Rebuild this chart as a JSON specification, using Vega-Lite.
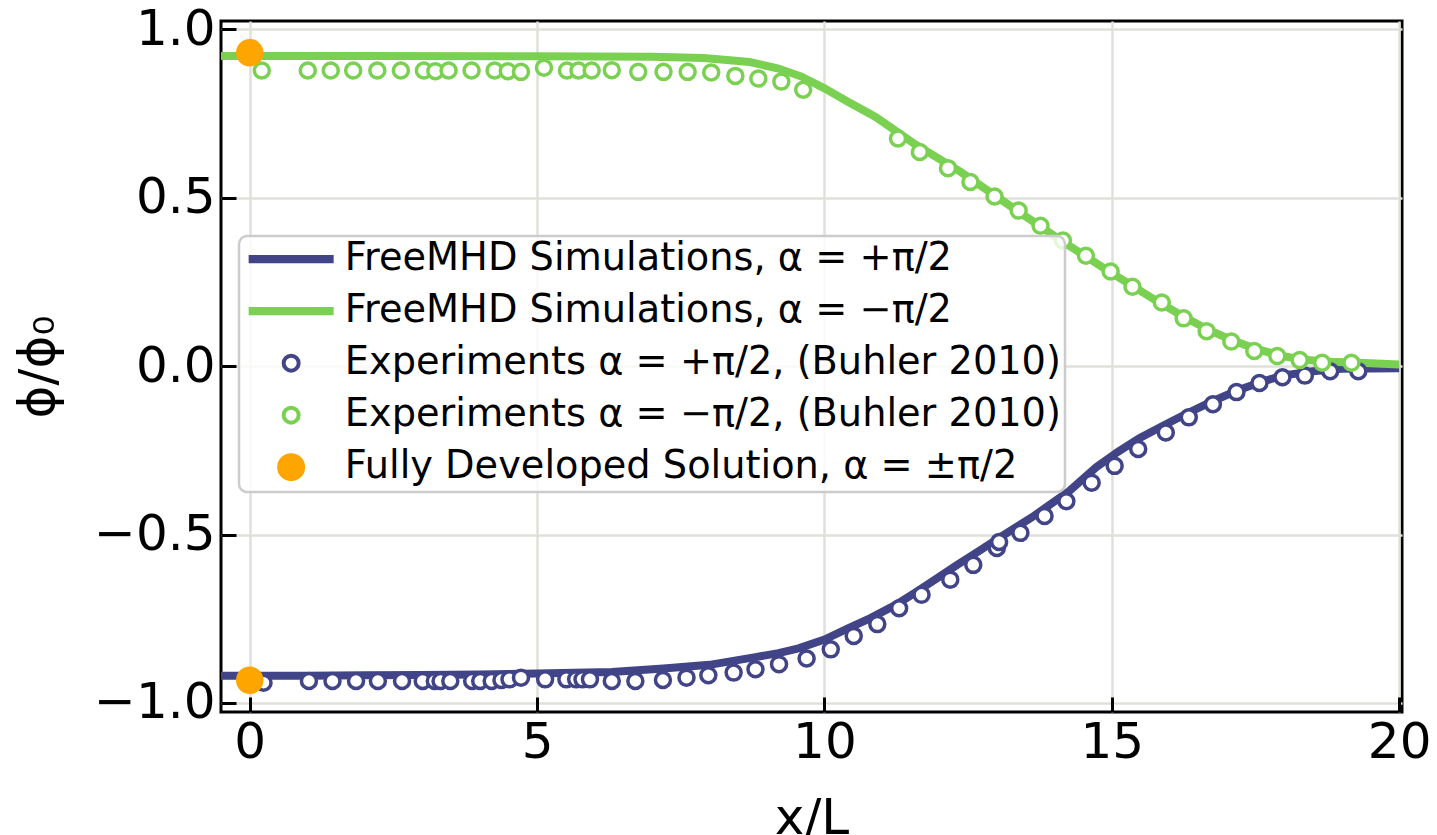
{
  "$schema": "https://vega.github.io/schema/vega-lite/v6.json",
  "width": 1181,
  "height": 691,
  "autosize": {"type": "none"},
  "padding": {"left": 221, "top": 21, "right": 35, "bottom": 123},
  "background": "white",
  "config": {
    "font": "DejaVu Sans",
    "view": {"stroke": "black", "strokeWidth": 3},
    "axis": {
      "domain": false,
      "grid": true,
      "gridColor": "#e0e0da",
      "gridWidth": 2.5,
      "ticks": true,
      "tickColor": "black",
      "tickWidth": 3,
      "tickSize": -15,
      "labelFont": "DejaVu Sans",
      "labelFontSize": 50,
      "labelColor": "black",
      "titleFont": "DejaVu Sans",
      "titleFontSize": 50,
      "titleFontWeight": "normal",
      "titleColor": "black",
      "labelPadding": 20
    },
    "legend": {
      "padding": 4,
      "fillColor": "rgba(255,255,255,0.8)",
      "strokeColor": "#cccccc",
      "strokeWidth": 2.5,
      "cornerRadius": 8,
      "labelFont": "DejaVu Sans",
      "labelFontSize": 38.3,
      "labelColor": "black",
      "labelLimit": 1200,
      "labelOffset": 34.5,
      "symbolOffset": 29,
      "rowPadding": 13,
      "symbolStrokeWidth": 4,
      "symbolOpacity": 1
    }
  },
  "datasets": {
    "sim": [
      {"series": "FreeMHD Simulations, α = +π/2", "x": -0.5, "y": -0.919},
      {"series": "FreeMHD Simulations, α = +π/2", "x": 1, "y": -0.919},
      {"series": "FreeMHD Simulations, α = +π/2", "x": 2, "y": -0.918},
      {"series": "FreeMHD Simulations, α = +π/2", "x": 3, "y": -0.917},
      {"series": "FreeMHD Simulations, α = +π/2", "x": 4, "y": -0.916},
      {"series": "FreeMHD Simulations, α = +π/2", "x": 5, "y": -0.913},
      {"series": "FreeMHD Simulations, α = +π/2", "x": 6.3, "y": -0.908},
      {"series": "FreeMHD Simulations, α = +π/2", "x": 7.2, "y": -0.898},
      {"series": "FreeMHD Simulations, α = +π/2", "x": 8, "y": -0.887},
      {"series": "FreeMHD Simulations, α = +π/2", "x": 8.8, "y": -0.864},
      {"series": "FreeMHD Simulations, α = +π/2", "x": 9.2, "y": -0.852},
      {"series": "FreeMHD Simulations, α = +π/2", "x": 9.55, "y": -0.838},
      {"series": "FreeMHD Simulations, α = +π/2", "x": 10, "y": -0.812},
      {"series": "FreeMHD Simulations, α = +π/2", "x": 10.42, "y": -0.778},
      {"series": "FreeMHD Simulations, α = +π/2", "x": 10.8, "y": -0.748},
      {"series": "FreeMHD Simulations, α = +π/2", "x": 11.24, "y": -0.709},
      {"series": "FreeMHD Simulations, α = +π/2", "x": 11.6, "y": -0.67},
      {"series": "FreeMHD Simulations, α = +π/2", "x": 11.97, "y": -0.629},
      {"series": "FreeMHD Simulations, α = +π/2", "x": 12.31, "y": -0.59},
      {"series": "FreeMHD Simulations, α = +π/2", "x": 12.7, "y": -0.548},
      {"series": "FreeMHD Simulations, α = +π/2", "x": 13.04, "y": -0.51},
      {"series": "FreeMHD Simulations, α = +π/2", "x": 13.6, "y": -0.45},
      {"series": "FreeMHD Simulations, α = +π/2", "x": 14.26, "y": -0.371},
      {"series": "FreeMHD Simulations, α = +π/2", "x": 14.73, "y": -0.3},
      {"series": "FreeMHD Simulations, α = +π/2", "x": 15.1, "y": -0.255},
      {"series": "FreeMHD Simulations, α = +π/2", "x": 15.48, "y": -0.214},
      {"series": "FreeMHD Simulations, α = +π/2", "x": 15.9, "y": -0.176},
      {"series": "FreeMHD Simulations, α = +π/2", "x": 16.29, "y": -0.142},
      {"series": "FreeMHD Simulations, α = +π/2", "x": 16.7, "y": -0.108},
      {"series": "FreeMHD Simulations, α = +π/2", "x": 17.17, "y": -0.073},
      {"series": "FreeMHD Simulations, α = +π/2", "x": 17.6, "y": -0.047},
      {"series": "FreeMHD Simulations, α = +π/2", "x": 17.97, "y": -0.028},
      {"series": "FreeMHD Simulations, α = +π/2", "x": 18.5, "y": -0.015},
      {"series": "FreeMHD Simulations, α = +π/2", "x": 18.99, "y": -0.008},
      {"series": "FreeMHD Simulations, α = +π/2", "x": 20, "y": -0.006},
      {"series": "FreeMHD Simulations, α = −π/2", "x": -0.5, "y": 0.921},
      {"series": "FreeMHD Simulations, α = −π/2", "x": 2, "y": 0.921},
      {"series": "FreeMHD Simulations, α = −π/2", "x": 5, "y": 0.92},
      {"series": "FreeMHD Simulations, α = −π/2", "x": 7, "y": 0.919},
      {"series": "FreeMHD Simulations, α = −π/2", "x": 7.9, "y": 0.915},
      {"series": "FreeMHD Simulations, α = −π/2", "x": 8.7, "y": 0.903},
      {"series": "FreeMHD Simulations, α = −π/2", "x": 9.2, "y": 0.884},
      {"series": "FreeMHD Simulations, α = −π/2", "x": 9.6, "y": 0.86},
      {"series": "FreeMHD Simulations, α = −π/2", "x": 10.0, "y": 0.825},
      {"series": "FreeMHD Simulations, α = −π/2", "x": 10.4, "y": 0.786},
      {"series": "FreeMHD Simulations, α = −π/2", "x": 10.89, "y": 0.74},
      {"series": "FreeMHD Simulations, α = −π/2", "x": 11.56, "y": 0.661},
      {"series": "FreeMHD Simulations, α = −π/2", "x": 12.37, "y": 0.577},
      {"series": "FreeMHD Simulations, α = −π/2", "x": 13.18, "y": 0.482},
      {"series": "FreeMHD Simulations, α = −π/2", "x": 14.12, "y": 0.373},
      {"series": "FreeMHD Simulations, α = −π/2", "x": 14.93, "y": 0.284},
      {"series": "FreeMHD Simulations, α = −π/2", "x": 15.73, "y": 0.199},
      {"series": "FreeMHD Simulations, α = −π/2", "x": 16.2, "y": 0.152},
      {"series": "FreeMHD Simulations, α = −π/2", "x": 16.61, "y": 0.114},
      {"series": "FreeMHD Simulations, α = −π/2", "x": 17.05, "y": 0.08},
      {"series": "FreeMHD Simulations, α = −π/2", "x": 17.48, "y": 0.053},
      {"series": "FreeMHD Simulations, α = −π/2", "x": 17.9, "y": 0.033},
      {"series": "FreeMHD Simulations, α = −π/2", "x": 18.29, "y": 0.02},
      {"series": "FreeMHD Simulations, α = −π/2", "x": 18.8, "y": 0.013},
      {"series": "FreeMHD Simulations, α = −π/2", "x": 19.3, "y": 0.01},
      {"series": "FreeMHD Simulations, α = −π/2", "x": 20, "y": 0.005}
    ],
    "pts": [
      {"series": "Experiments α = +π/2, (Buhler 2010)", "x": 0.24, "y": -0.94},
      {"series": "Experiments α = +π/2, (Buhler 2010)", "x": 1.03, "y": -0.935},
      {"series": "Experiments α = +π/2, (Buhler 2010)", "x": 1.44, "y": -0.935},
      {"series": "Experiments α = +π/2, (Buhler 2010)", "x": 1.85, "y": -0.935},
      {"series": "Experiments α = +π/2, (Buhler 2010)", "x": 2.23, "y": -0.935},
      {"series": "Experiments α = +π/2, (Buhler 2010)", "x": 2.65, "y": -0.935},
      {"series": "Experiments α = +π/2, (Buhler 2010)", "x": 3.01, "y": -0.935},
      {"series": "Experiments α = +π/2, (Buhler 2010)", "x": 3.22, "y": -0.935},
      {"series": "Experiments α = +π/2, (Buhler 2010)", "x": 3.32, "y": -0.935},
      {"series": "Experiments α = +π/2, (Buhler 2010)", "x": 3.49, "y": -0.935},
      {"series": "Experiments α = +π/2, (Buhler 2010)", "x": 3.87, "y": -0.935},
      {"series": "Experiments α = +π/2, (Buhler 2010)", "x": 4.01, "y": -0.935},
      {"series": "Experiments α = +π/2, (Buhler 2010)", "x": 4.21, "y": -0.935},
      {"series": "Experiments α = +π/2, (Buhler 2010)", "x": 4.38, "y": -0.932},
      {"series": "Experiments α = +π/2, (Buhler 2010)", "x": 4.52, "y": -0.93},
      {"series": "Experiments α = +π/2, (Buhler 2010)", "x": 4.72, "y": -0.925},
      {"series": "Experiments α = +π/2, (Buhler 2010)", "x": 5.14, "y": -0.93},
      {"series": "Experiments α = +π/2, (Buhler 2010)", "x": 5.51, "y": -0.93},
      {"series": "Experiments α = +π/2, (Buhler 2010)", "x": 5.68, "y": -0.93},
      {"series": "Experiments α = +π/2, (Buhler 2010)", "x": 5.79, "y": -0.93},
      {"series": "Experiments α = +π/2, (Buhler 2010)", "x": 5.92, "y": -0.93},
      {"series": "Experiments α = +π/2, (Buhler 2010)", "x": 6.3, "y": -0.935},
      {"series": "Experiments α = +π/2, (Buhler 2010)", "x": 6.71, "y": -0.935},
      {"series": "Experiments α = +π/2, (Buhler 2010)", "x": 7.19, "y": -0.932},
      {"series": "Experiments α = +π/2, (Buhler 2010)", "x": 7.6, "y": -0.925},
      {"series": "Experiments α = +π/2, (Buhler 2010)", "x": 7.98, "y": -0.918},
      {"series": "Experiments α = +π/2, (Buhler 2010)", "x": 8.42, "y": -0.91},
      {"series": "Experiments α = +π/2, (Buhler 2010)", "x": 8.8, "y": -0.9},
      {"series": "Experiments α = +π/2, (Buhler 2010)", "x": 9.21, "y": -0.885},
      {"series": "Experiments α = +π/2, (Buhler 2010)", "x": 9.69, "y": -0.868},
      {"series": "Experiments α = +π/2, (Buhler 2010)", "x": 10.11, "y": -0.841},
      {"series": "Experiments α = +π/2, (Buhler 2010)", "x": 10.51, "y": -0.801},
      {"series": "Experiments α = +π/2, (Buhler 2010)", "x": 10.92, "y": -0.766},
      {"series": "Experiments α = +π/2, (Buhler 2010)", "x": 11.3, "y": -0.719},
      {"series": "Experiments α = +π/2, (Buhler 2010)", "x": 11.69, "y": -0.679},
      {"series": "Experiments α = +π/2, (Buhler 2010)", "x": 12.19, "y": -0.634},
      {"series": "Experiments α = +π/2, (Buhler 2010)", "x": 12.59, "y": -0.59},
      {"series": "Experiments α = +π/2, (Buhler 2010)", "x": 13.0, "y": -0.54},
      {"series": "Experiments α = +π/2, (Buhler 2010)", "x": 13.04, "y": -0.522},
      {"series": "Experiments α = +π/2, (Buhler 2010)", "x": 13.41, "y": -0.495},
      {"series": "Experiments α = +π/2, (Buhler 2010)", "x": 13.83, "y": -0.445},
      {"series": "Experiments α = +π/2, (Buhler 2010)", "x": 14.21, "y": -0.401},
      {"series": "Experiments α = +π/2, (Buhler 2010)", "x": 14.65, "y": -0.346},
      {"series": "Experiments α = +π/2, (Buhler 2010)", "x": 15.05, "y": -0.296},
      {"series": "Experiments α = +π/2, (Buhler 2010)", "x": 15.46, "y": -0.246},
      {"series": "Experiments α = +π/2, (Buhler 2010)", "x": 15.94, "y": -0.197},
      {"series": "Experiments α = +π/2, (Buhler 2010)", "x": 16.34, "y": -0.152},
      {"series": "Experiments α = +π/2, (Buhler 2010)", "x": 16.76, "y": -0.113},
      {"series": "Experiments α = +π/2, (Buhler 2010)", "x": 17.17, "y": -0.077},
      {"series": "Experiments α = +π/2, (Buhler 2010)", "x": 17.57, "y": -0.05},
      {"series": "Experiments α = +π/2, (Buhler 2010)", "x": 17.97, "y": -0.033},
      {"series": "Experiments α = +π/2, (Buhler 2010)", "x": 18.36, "y": -0.028},
      {"series": "Experiments α = +π/2, (Buhler 2010)", "x": 18.8, "y": -0.015},
      {"series": "Experiments α = +π/2, (Buhler 2010)", "x": 19.29, "y": -0.015},
      {"series": "Experiments α = −π/2, (Buhler 2010)", "x": 0.21, "y": 0.878},
      {"series": "Experiments α = −π/2, (Buhler 2010)", "x": 1.01, "y": 0.878},
      {"series": "Experiments α = −π/2, (Buhler 2010)", "x": 1.41, "y": 0.878},
      {"series": "Experiments α = −π/2, (Buhler 2010)", "x": 1.8, "y": 0.878},
      {"series": "Experiments α = −π/2, (Buhler 2010)", "x": 2.22, "y": 0.878},
      {"series": "Experiments α = −π/2, (Buhler 2010)", "x": 2.63, "y": 0.878},
      {"series": "Experiments α = −π/2, (Buhler 2010)", "x": 3.03, "y": 0.878},
      {"series": "Experiments α = −π/2, (Buhler 2010)", "x": 3.23, "y": 0.876},
      {"series": "Experiments α = −π/2, (Buhler 2010)", "x": 3.46, "y": 0.878},
      {"series": "Experiments α = −π/2, (Buhler 2010)", "x": 3.86, "y": 0.878},
      {"series": "Experiments α = −π/2, (Buhler 2010)", "x": 4.26, "y": 0.878},
      {"series": "Experiments α = −π/2, (Buhler 2010)", "x": 4.49, "y": 0.876},
      {"series": "Experiments α = −π/2, (Buhler 2010)", "x": 4.72, "y": 0.874},
      {"series": "Experiments α = −π/2, (Buhler 2010)", "x": 5.12, "y": 0.886},
      {"series": "Experiments α = −π/2, (Buhler 2010)", "x": 5.52, "y": 0.878},
      {"series": "Experiments α = −π/2, (Buhler 2010)", "x": 5.72, "y": 0.878},
      {"series": "Experiments α = −π/2, (Buhler 2010)", "x": 5.95, "y": 0.878},
      {"series": "Experiments α = −π/2, (Buhler 2010)", "x": 6.3, "y": 0.879},
      {"series": "Experiments α = −π/2, (Buhler 2010)", "x": 6.76, "y": 0.874},
      {"series": "Experiments α = −π/2, (Buhler 2010)", "x": 7.2, "y": 0.874},
      {"series": "Experiments α = −π/2, (Buhler 2010)", "x": 7.62, "y": 0.874},
      {"series": "Experiments α = −π/2, (Buhler 2010)", "x": 8.03, "y": 0.872},
      {"series": "Experiments α = −π/2, (Buhler 2010)", "x": 8.45, "y": 0.862},
      {"series": "Experiments α = −π/2, (Buhler 2010)", "x": 8.85, "y": 0.854},
      {"series": "Experiments α = −π/2, (Buhler 2010)", "x": 9.25, "y": 0.845},
      {"series": "Experiments α = −π/2, (Buhler 2010)", "x": 9.63, "y": 0.821},
      {"series": "Experiments α = −π/2, (Buhler 2010)", "x": 11.28, "y": 0.676},
      {"series": "Experiments α = −π/2, (Buhler 2010)", "x": 11.66, "y": 0.636},
      {"series": "Experiments α = −π/2, (Buhler 2010)", "x": 12.15, "y": 0.588},
      {"series": "Experiments α = −π/2, (Buhler 2010)", "x": 12.54, "y": 0.547},
      {"series": "Experiments α = −π/2, (Buhler 2010)", "x": 12.96, "y": 0.504},
      {"series": "Experiments α = −π/2, (Buhler 2010)", "x": 13.38, "y": 0.462},
      {"series": "Experiments α = −π/2, (Buhler 2010)", "x": 13.76, "y": 0.417},
      {"series": "Experiments α = −π/2, (Buhler 2010)", "x": 14.15, "y": 0.373},
      {"series": "Experiments α = −π/2, (Buhler 2010)", "x": 14.55, "y": 0.328},
      {"series": "Experiments α = −π/2, (Buhler 2010)", "x": 14.98, "y": 0.281},
      {"series": "Experiments α = −π/2, (Buhler 2010)", "x": 15.36, "y": 0.236},
      {"series": "Experiments α = −π/2, (Buhler 2010)", "x": 15.87, "y": 0.189},
      {"series": "Experiments α = −π/2, (Buhler 2010)", "x": 16.25, "y": 0.142},
      {"series": "Experiments α = −π/2, (Buhler 2010)", "x": 16.65, "y": 0.104},
      {"series": "Experiments α = −π/2, (Buhler 2010)", "x": 17.08, "y": 0.073},
      {"series": "Experiments α = −π/2, (Buhler 2010)", "x": 17.48, "y": 0.045},
      {"series": "Experiments α = −π/2, (Buhler 2010)", "x": 17.88, "y": 0.03},
      {"series": "Experiments α = −π/2, (Buhler 2010)", "x": 18.27, "y": 0.018},
      {"series": "Experiments α = −π/2, (Buhler 2010)", "x": 18.66, "y": 0.01},
      {"series": "Experiments α = −π/2, (Buhler 2010)", "x": 19.17, "y": 0.01},
      {"series": "Fully Developed Solution, α = ±π/2", "x": 0, "y": 0.931},
      {"series": "Fully Developed Solution, α = ±π/2", "x": 0, "y": -0.933}
    ]
  },
  "layer": [
    {
      "data": {"name": "sim"},
      "mark": {"type": "line", "strokeWidth": 8, "strokeCap": "butt"},
      "encoding": {
        "x": {"field": "x", "type": "quantitative", "scale": {"domain": [-0.5, 20.05], "nice": false, "zero": false},
              "axis": {"values": [0, 5, 10, 15, 20], "format": "d", "title": "x/L", "labelFlush": false, "labelOverlap": false, "titlePadding": 26}},
        "y": {"field": "y", "type": "quantitative", "scale": {"domain": [-1.027, 1.025], "nice": false, "zero": false},
              "axis": {"values": [-1, -0.5, 0, 0.5, 1], "format": ".1f", "title": "ϕ/ϕ₀", "labelFlush": false, "labelOverlap": false, "labelPadding": 21, "titlePadding": 30}},
        "stroke": {"field": "series", "type": "nominal",
          "scale": {"domain": ["FreeMHD Simulations, α = +π/2", "FreeMHD Simulations, α = −π/2", "Experiments α = +π/2, (Buhler 2010)", "Experiments α = −π/2, (Buhler 2010)", "Fully Developed Solution, α = ±π/2"],
                    "range": ["#414487", "#7ad151", "#414487", "#7ad151", "#ffa500"]},
          "legend": {"title": null, "orient": "none", "legendX": 18, "legendY": 215,
            "encode": {"symbols": {"update": {"fill": {"scale": "fill", "field": "value"}, "stroke": {"scale": "stroke", "field": "value"}, "shape": {"scale": "shape", "field": "value"}, "size": {"scale": "size", "field": "value"}, "strokeWidth": {"value": 4}, "opacity": {"value": 1}, "fillOpacity": {"value": 1}, "strokeOpacity": {"value": 1}}}}}}
      }
    },
    {
      "data": {"name": "pts"},
      "mark": {"type": "point", "filled": true, "strokeWidth": 3.5, "opacity": 1},
      "encoding": {
        "x": {"field": "x", "type": "quantitative"},
        "y": {"field": "y", "type": "quantitative"},
        "stroke": {"field": "series", "type": "nominal",
          "legend": {"title": null, "orient": "none", "legendX": 18, "legendY": 215,
            "encode": {"symbols": {"update": {"fill": {"scale": "fill", "field": "value"}, "stroke": {"scale": "stroke", "field": "value"}, "shape": {"scale": "shape", "field": "value"}, "size": {"scale": "size", "field": "value"}, "strokeWidth": {"value": 4}, "opacity": {"value": 1}, "fillOpacity": {"value": 1}, "strokeOpacity": {"value": 1}}}}}},
        "fill": {"field": "series", "type": "nominal",
          "scale": {"domain": ["FreeMHD Simulations, α = +π/2", "FreeMHD Simulations, α = −π/2", "Experiments α = +π/2, (Buhler 2010)", "Experiments α = −π/2, (Buhler 2010)", "Fully Developed Solution, α = ±π/2"],
                    "range": ["#414487", "#7ad151", "#ffffff", "#ffffff", "#ffa500"]},
          "legend": {"title": null, "orient": "none", "legendX": 18, "legendY": 215,
            "encode": {"symbols": {"update": {"fill": {"scale": "fill", "field": "value"}, "stroke": {"scale": "stroke", "field": "value"}, "shape": {"scale": "shape", "field": "value"}, "size": {"scale": "size", "field": "value"}, "strokeWidth": {"value": 4}, "opacity": {"value": 1}, "fillOpacity": {"value": 1}, "strokeOpacity": {"value": 1}}}}}},
        "shape": {"field": "series", "type": "nominal",
          "scale": {"domain": ["FreeMHD Simulations, α = +π/2", "FreeMHD Simulations, α = −π/2", "Experiments α = +π/2, (Buhler 2010)", "Experiments α = −π/2, (Buhler 2010)", "Fully Developed Solution, α = ±π/2"],
                    "range": ["M-4.05,-0.215H4.05V0.215H-4.05Z", "M-4.05,-0.215H4.05V0.215H-4.05Z", "circle", "circle", "circle"]},
          "legend": {"title": null, "orient": "none", "legendX": 18, "legendY": 215,
            "encode": {"symbols": {"update": {"fill": {"scale": "fill", "field": "value"}, "stroke": {"scale": "stroke", "field": "value"}, "shape": {"scale": "shape", "field": "value"}, "size": {"scale": "size", "field": "value"}, "strokeWidth": {"value": 4}, "opacity": {"value": 1}, "fillOpacity": {"value": 1}, "strokeOpacity": {"value": 1}}}}}},
        "size": {"field": "series", "type": "nominal",
          "scale": {"type": "ordinal", "domain": ["FreeMHD Simulations, α = +π/2", "FreeMHD Simulations, α = −π/2", "Experiments α = +π/2, (Buhler 2010)", "Experiments α = −π/2, (Buhler 2010)", "Fully Developed Solution, α = ±π/2"],
                    "range": [400, 400, 225, 225, 576]},
          "legend": {"title": null, "orient": "none", "legendX": 18, "legendY": 215,
            "encode": {"symbols": {"update": {"fill": {"scale": "fill", "field": "value"}, "stroke": {"scale": "stroke", "field": "value"}, "shape": {"scale": "shape", "field": "value"}, "size": {"scale": "size", "field": "value"}, "strokeWidth": {"value": 4}, "opacity": {"value": 1}, "fillOpacity": {"value": 1}, "strokeOpacity": {"value": 1}}}}}}
      }
    }
  ]
}
